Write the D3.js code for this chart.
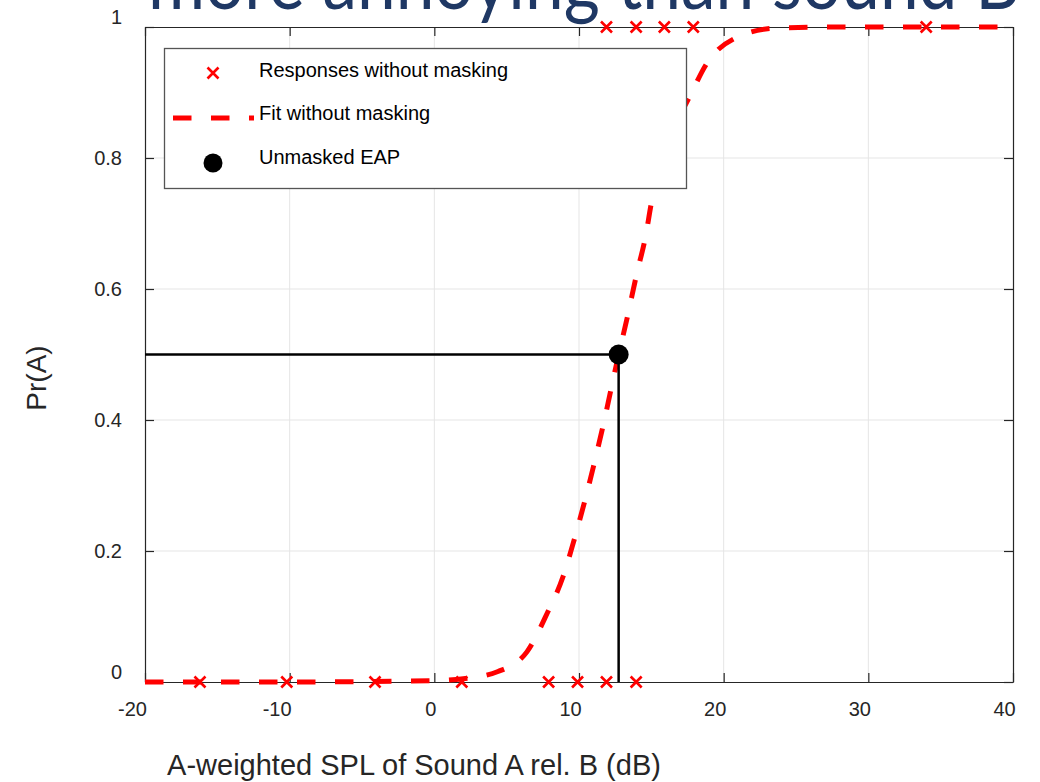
<!DOCTYPE html>
<html>
<head>
<meta charset="utf-8">
<script src="https://cdn.jsdelivr.net/npm/d3@7"></script>
<style>
  html, body { margin: 0; padding: 0; background: #fff; }
  svg { display: block; }
</style>
</head>
<body>
<svg id="chart" width="1040" height="782"></svg>
<script>
// Tick values and labels
const xTicks = [-20, -10, 0, 10, 20, 30, 40];
const yTicks = [0, 0.2, 0.4, 0.6, 0.8, 1];
const yTickLabels = ["0", "0.2", "0.4", "0.6", "0.8", "1"];

// Individual responses (Pr = 0 and Pr = 1)
const respZeroX = [-16.2, -10.2, -4.1, 1.9, 7.9, 9.9, 11.9, 13.95];
const respOneX = [11.9, 13.95, 15.9, 17.9, 34.0];

// Psychometric fit sampled along the curve
const fitX = [-20, -10, 0, 2, 4.4, 6.4, 7.8, 8.9, 9.6, 10.3, 11.0, 11.6, 12.74, 13.3, 14.0, 14.6, 15.0, 16.3, 17.7, 18.85, 20.8, 23.5, 28, 40];
const fitY = [0, 0, 0.002, 0.005, 0.016, 0.046, 0.105, 0.161, 0.212, 0.268, 0.329, 0.385, 0.5, 0.553, 0.624, 0.68, 0.731, 0.83, 0.896, 0.945, 0.983, 0.998, 1, 1];

// Equal-annoyance point
const eapX = 12.74;
const eapY = 0.5;

const legendLabels = ["Responses without masking", "Fit without masking", "Unmasked EAP"];
const titleText = "more annoying than sound B";
const xLabel = "A-weighted SPL of Sound A rel. B (dB)";
const yLabel = "Pr(A)";

const svg = d3.select("#chart");
const plotL = 145, plotR = 1013, plotT = 27, plotB = 682;
const x = d3.scaleLinear().domain([-20, 40]).range([plotL, plotR]);
const y = d3.scaleLinear().domain([0, 1]).range([plotB, plotT]);

const RED = "#ff0000";
const AXIS = "#262626";
const FONT = "'Liberation Sans', Arial, sans-serif";

// Slide title, partly above the page edge
svg.append("text")
  .attr("x", 148).attr("y", 9)
  .attr("textLength", 872).attr("lengthAdjust", "spacingAndGlyphs")
  .attr("font-family", "Lato, 'Open Sans', sans-serif")
  .attr("font-size", 80)
  .attr("fill", "#1f3864")
  .text(titleText);

// Grid
const grid = svg.append("g").attr("stroke", "#e5e5e5").attr("stroke-width", 1);
grid.selectAll("line.vx").data(xTicks.slice(1, -1)).join("line")
  .attr("x1", d => x(d)).attr("x2", d => x(d)).attr("y1", plotT).attr("y2", plotB);
grid.selectAll("line.hy").data(yTicks.slice(1, -1)).join("line")
  .attr("y1", d => y(d)).attr("y2", d => y(d)).attr("x1", plotL).attr("x2", plotR);

// Axes (ticks pointing inward on all four sides)
function styleAxis(g) {
  g.selectAll("path.domain").attr("stroke", AXIS).attr("stroke-width", 1.2);
  g.selectAll(".tick line").attr("stroke", AXIS).attr("stroke-width", 1.2);
  g.selectAll(".tick text").attr("fill", AXIS).attr("font-family", FONT).attr("font-size", 20);
}

const gx = svg.append("g").attr("transform", `translate(0,${plotB})`)
  .call(d3.axisBottom(x).tickValues(xTicks).tickSizeInner(-9).tickSizeOuter(0).tickPadding(20).tickFormat(d => String(d)));
styleAxis(gx);
gx.selectAll(".tick text").attr("dx", d => d < 0 ? -13 : (d === 0 ? -4 : -9));

const gy = svg.append("g").attr("transform", `translate(${plotL},0)`)
  .call(d3.axisLeft(y).tickValues(yTicks).tickSizeInner(-9).tickSizeOuter(0).tickPadding(23)
    .tickFormat((d, i) => yTickLabels[i]));
styleAxis(gy);
gy.selectAll(".tick text").attr("dy", d => (d === 0 || d === 1) ? "-0.18em" : "0.32em");

const gt = svg.append("g").attr("transform", `translate(0,${plotT})`)
  .call(d3.axisTop(x).tickValues(xTicks).tickSizeInner(-9).tickSizeOuter(0).tickFormat(""));
styleAxis(gt);

const gr = svg.append("g").attr("transform", `translate(${plotR},0)`)
  .call(d3.axisRight(y).tickValues(yTicks).tickSizeInner(-9).tickSizeOuter(0).tickFormat(""));
styleAxis(gr);

// Axis titles
svg.append("text")
  .attr("x", 414).attr("y", 775)
  .attr("text-anchor", "middle")
  .attr("font-family", FONT).attr("font-size", 29).attr("fill", AXIS)
  .text(xLabel);

svg.append("text")
  .attr("transform", "translate(46,378) rotate(-90)")
  .attr("text-anchor", "middle")
  .attr("font-family", FONT).attr("font-size", 28).attr("fill", AXIS)
  .text(yLabel);

// Fitted curve
const line = d3.line().x((d, i) => x(fitX[i])).y((d, i) => y(fitY[i])).curve(d3.curveMonotoneX);
svg.append("path")
  .datum(fitX)
  .attr("d", line)
  .attr("fill", "none")
  .attr("stroke", RED)
  .attr("stroke-width", 5)
  .attr("stroke-dasharray", "18.5,19.5");

// Response markers
const cross = "M-5.5,-5.5L5.5,5.5M-5.5,5.5L5.5,-5.5";
const responses = respZeroX.map(v => [v, 0]).concat(respOneX.map(v => [v, 1]));
svg.append("g").selectAll("path").data(responses).join("path")
  .attr("transform", d => `translate(${x(d[0])},${y(d[1])})`)
  .attr("d", cross)
  .attr("fill", "none").attr("stroke", RED).attr("stroke-width", 2.6);

// EAP guide lines and point
svg.append("line")
  .attr("x1", x(-20)).attr("x2", x(eapX)).attr("y1", y(eapY)).attr("y2", y(eapY))
  .attr("stroke", "#000").attr("stroke-width", 2.5);
svg.append("line")
  .attr("x1", x(eapX)).attr("x2", x(eapX)).attr("y1", y(eapY)).attr("y2", y(0))
  .attr("stroke", "#000").attr("stroke-width", 2.5);
svg.append("circle")
  .attr("cx", x(eapX)).attr("cy", y(eapY)).attr("r", 10)
  .attr("fill", "#000");

// Legend
const lg = svg.append("g");
lg.append("rect")
  .attr("x", 164.5).attr("y", 48.5).attr("width", 522).attr("height", 140)
  .attr("fill", "#fff").attr("stroke", "#555").attr("stroke-width", 1.3);
const rowsY = [73, 118, 163];
const textRowsY = [77, 120, 164];
lg.append("path")
  .attr("transform", `translate(213,${rowsY[0]})`)
  .attr("d", cross).attr("fill", "none").attr("stroke", RED).attr("stroke-width", 2.6);
lg.append("line")
  .attr("x1", 173).attr("x2", 254).attr("y1", rowsY[1]).attr("y2", rowsY[1])
  .attr("stroke", RED).attr("stroke-width", 5).attr("stroke-dasharray", "18.5,19.5");
lg.append("circle")
  .attr("cx", 213).attr("cy", rowsY[2]).attr("r", 9.5).attr("fill", "#000");
lg.selectAll("text").data(legendLabels).join("text")
  .attr("x", 259)
  .attr("y", (d, i) => textRowsY[i])
  .attr("font-family", FONT).attr("font-size", 20).attr("fill", "#000")
  .text(d => d);
</script>
</body>
</html>
